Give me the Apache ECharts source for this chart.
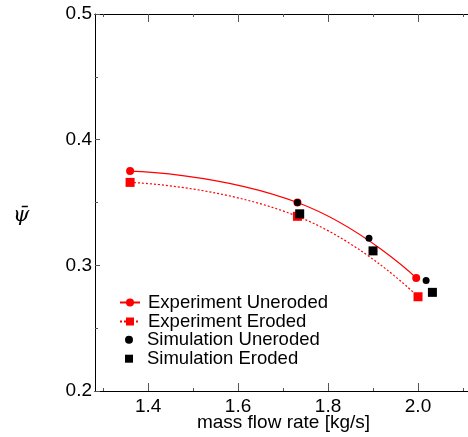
<!DOCTYPE html>
<html><head><meta charset="utf-8">
<script src="https://cdn.jsdelivr.net/npm/echarts@6/dist/echarts.min.js"></script>
<style>html,body{margin:0;padding:0;background:#fff}#c{width:468px;height:437px}</style>
</head><body><div id="c"></div>
<script>
var seriesNames = ['Experiment Uneroded','Experiment Eroded','Simulation Uneroded','Simulation Eroded'];
var expUnerodedX = [1.36, 1.732, 1.996];
var expUnerodedY = [0.375, 0.350, 0.290];
var expErodedX = [1.36, 1.732, 2.0];
var expErodedY = [0.366, 0.339, 0.275];
var simUnerodedX = [1.732, 1.891, 2.018];
var simUnerodedY = [0.350, 0.3215, 0.288];
var simErodedX = [1.737, 1.90, 2.032];
var simErodedY = [0.341, 0.3115, 0.2785];
var xMajorTicks = [1.4, 1.6, 1.8, 2.0];
var xMinorTicks = [1.3, 1.5, 1.7, 1.9, 2.1];
var xTickLabels = ['1.4','1.6','1.8','2.0'];
var yTickLabels = ['0.2','0.3','0.4','0.5'];

function pairs(xs, ys){ return xs.map(function(x,i){return [x, ys[i]];}); }
var FONT = '"Liberation Sans", Arial, sans-serif';
var chart = echarts.init(document.getElementById('c'), null, {renderer:'canvas'});
function xAx(pos, ticks, len, show){
  return {
    type:'value', position:pos, min:1.282, max:2.12,
    axisLine:{show:true, onZero:false, lineStyle:{color:'#000', width:1}},
    axisTick:{show:true, inside:true, length:len, customValues:ticks, lineStyle:{color:'#555', width:1}},
    axisLabel:{show:show, customValues:ticks, formatter:function(v){return xTickLabels[xMajorTicks.indexOf(+v.toFixed(1))] || v.toFixed(1);}, color:'#000', fontSize:19, fontFamily:FONT, margin:6},
    splitLine:{show:false},
    name: show ? 'mass flow rate [kg/s]' : '', nameLocation:'middle', nameGap:32, nameMoveOverlap:false,
    nameTextStyle:{color:'#000', fontSize:19, fontFamily:FONT, verticalAlign:'middle'}
  };
}
chart.setOption({
  animation:false,
  grid:{left:95, top:14, width:377, height:377, containLabel:false, outerBoundsMode:'none'},
  xAxis:[ xAx('bottom', xMajorTicks, 8, true), xAx('bottom', xMinorTicks, 3, false), xAx('top', xMajorTicks, 8, false), xAx('top', xMinorTicks, 3, false) ],
  yAxis:[{
    type:'value', min:0.2, max:0.5, interval:0.1,
    axisLine:{show:true, onZero:false, lineStyle:{color:'#000', width:1}},
    axisTick:{show:true, inside:true, length:5, lineStyle:{color:'#555'}},
    minorTick:{show:true, splitNumber:2, length:3, lineStyle:{color:'#555'}},
    axisLabel:{color:'#000', fontSize:19, fontFamily:FONT, margin:3, formatter:function(v){return yTickLabels[Math.round((v-0.2)*10)];}},
    splitLine:{show:false}, minorSplitLine:{show:false}
  }],
  graphic:[{type:'text', left:13, top:205, style:{text:'\u03C8\u0304', fontSize:21, fontStyle:'italic', fontFamily:'"DejaVu Serif", serif', fill:'#000'}}],
  legend:[{
    orient:'vertical', left:114, top:288, itemWidth:20, itemHeight:10, itemGap:0,
    textStyle:{color:'#000', fontSize:18.5, lineHeight:18.6, fontFamily:FONT, padding:[0,0,0,3]},
    data:[seriesNames[0], seriesNames[1]]
  },{
    orient:'vertical', left:120, top:325.2, itemWidth:8, itemHeight:8, itemGap:0,
    textStyle:{color:'#000', fontSize:18.5, lineHeight:18.6, fontFamily:FONT, padding:[0,0,0,9]},
    data:[{name:seriesNames[2], icon:'circle'}, {name:seriesNames[3], icon:'rect'}]
  }],
  series:[
    {name:seriesNames[0], type:'line', smooth:0.5, data:pairs(expUnerodedX, expUnerodedY), symbol:'circle', symbolSize:8, color:'#ff0000', itemStyle:{color:'#ff0000', opacity:1}, lineStyle:{color:'#ff0000', width:1.2}, z:2},
    {name:seriesNames[1], type:'line', smooth:0.5, data:pairs(expErodedX, expErodedY), symbol:'rect', symbolSize:9, color:'#ff0000', itemStyle:{color:'#ff0000', opacity:1}, lineStyle:{color:'#ff0000', width:1.2, type:[2,2]}, z:2},
    {name:seriesNames[2], type:'scatter', data:pairs(simUnerodedX, simUnerodedY), symbol:'circle', symbolSize:7, color:'#000', itemStyle:{color:'#000', opacity:1}, z:3},
    {name:seriesNames[3], type:'scatter', data:pairs(simErodedX, simErodedY), symbol:'rect', symbolSize:9, color:'#000', itemStyle:{color:'#000', opacity:1}, z:3}
  ]
});
</script></body></html>
